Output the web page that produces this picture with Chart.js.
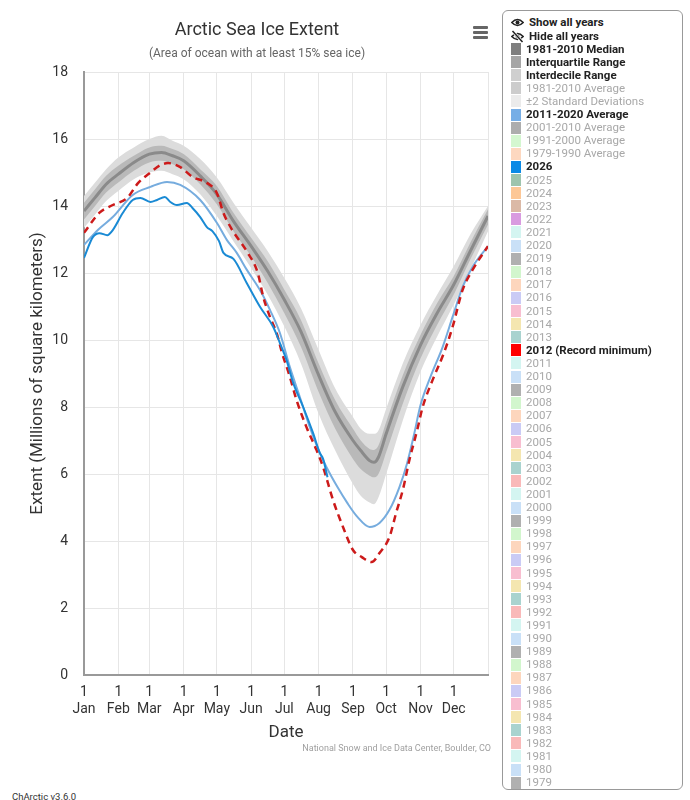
<!DOCTYPE html>
<html><head><meta charset="utf-8">
<script src="https://cdn.jsdelivr.net/npm/chart.js@4.4.1/dist/chart.umd.min.js"></script>
<style>
html,body{margin:0;padding:0;background:#fff;}
body{width:690px;height:800px;position:relative;overflow:hidden;font-family:Roboto,"Noto Sans",sans-serif;}
#wrap{position:absolute;left:0;top:0;width:514px;height:760px;}
#title{position:absolute;left:0;width:514px;top:17px;text-align:center;font-size:18px;color:#333;line-height:24px;}
#subtitle{position:absolute;left:0;width:514px;top:45px;text-align:center;font-size:12px;color:#666;line-height:16px;}
#menu{position:absolute;left:473px;top:26px;width:15px;}
#menu span{display:block;height:3px;background:#666;margin-bottom:2px;border-radius:1px;}
#credit{position:absolute;left:0;width:491px;top:742px;text-align:right;font-size:9px;line-height:12px;color:#a0a0a0;}
#ver{position:absolute;left:12px;top:791px;font-size:9.5px;line-height:12px;color:#333;}
#legend{position:absolute;left:502px;top:10px;width:179px;height:778px;border:1px solid #999;border-radius:6px;background:#fff;}
.row{position:absolute;left:8px;height:13px;line-height:13px;font-size:11.5px;white-space:nowrap;}
.sw{display:inline-block;width:10px;height:12px;vertical-align:top;margin-right:5px;margin-top:0.5px;}
.ic{display:inline-block;width:13px;height:13px;vertical-align:top;margin-right:5px;}
</style>
</head>
<body>
<div id="wrap"><canvas id="c" width="514" height="760"></canvas></div>
<div id="title">Arctic Sea Ice Extent</div>
<div id="subtitle">(Area of ocean with at least 15% sea ice)</div>
<div id="menu"><span></span><span></span><span></span></div>
<div id="credit">National Snow and Ice Data Center, Boulder, CO</div>
<div id="ver">ChArctic v3.6.0</div>
<div id="legend"></div>
<script>
// ---- Data (day of year, 0 = Jan 1) ----
const monthNames = ['Jan','Feb','Mar','Apr','May','Jun','Jul','Aug','Sep','Oct','Nov','Dec'];
const monthStartDays = [0,31,59,90,120,151,181,212,243,273,304,334,365];

const climDays = [0,10,20,31,45,59,70,80,90,105,120,135,151,166,181,196,212,227,243,250,258,262,266,273,288,304,319,334,349,365];
const median1981 = [13.85,14.25,14.65,14.95,15.3,15.55,15.6,15.5,15.35,14.9,14.35,13.55,12.8,12.05,11.2,10.25,8.95,7.85,7.0,6.7,6.4,6.35,6.5,7.2,8.6,9.85,10.8,11.65,12.65,13.7];
const iqHigh = [14.1,14.5,14.9,15.2,15.5,15.75,15.8,15.7,15.55,15.1,14.6,13.8,13.05,12.35,11.5,10.6,9.3,8.2,7.35,7.0,6.75,6.72,6.85,7.55,8.95,10.15,11.1,11.9,12.9,13.9];
const iqLow = [13.6,14.0,14.4,14.7,15.05,15.3,15.35,15.25,15.1,14.65,14.05,13.25,12.5,11.7,10.8,9.8,8.45,7.35,6.45,6.15,5.95,5.9,6.0,6.65,8.1,9.45,10.45,11.35,12.4,13.45];
const idHigh = [14.3,14.7,15.1,15.45,15.75,16.0,16.1,15.95,15.8,15.4,14.85,14.1,13.35,12.65,11.85,10.95,9.7,8.55,7.7,7.35,7.2,7.2,7.3,7.95,9.3,10.45,11.35,12.2,13.15,14.0];
const idLow = [13.35,13.75,14.15,14.45,14.8,15.0,15.05,14.95,14.8,14.35,13.7,12.95,12.15,11.35,10.4,9.3,7.8,6.7,5.7,5.35,5.15,5.1,5.3,6.0,7.6,9.05,10.1,11.05,12.1,13.25];

const avgDays = [0,13,26,44,60,75,87,105,120,129,138,147,159,168,177,186,195,204,213,219,229,238,247,258,267,276,285,292,298,304,313,324,333,342,351,365];
const avg2011_2020 = [12.84,13.3,13.67,14.33,14.57,14.72,14.63,14.18,13.5,12.99,12.6,12.1,11.49,10.9,10.21,9.19,8.3,7.4,6.63,6.21,5.61,5.13,4.72,4.42,4.54,4.93,5.61,6.33,7.15,8.05,8.9,9.79,10.69,11.58,12.18,12.8];

const days2012 = [0,14,26,39,49,60,69,76,87,98,111,120,126,134,147,157,162,168,174,179,186,192,201,210,216,225,234,243,251,260,267,276,282,288,294,301,306,315,325,333,342,351,365];
const ext2012 = [13.2,13.8,14.03,14.24,14.69,15.0,15.22,15.28,15.16,14.87,14.69,14.39,13.79,13.28,12.65,12.0,11.28,10.69,10.21,9.61,8.9,8.21,7.4,6.72,6.21,5.22,4.42,3.73,3.52,3.37,3.64,4.12,4.84,5.52,6.42,7.31,8.0,8.81,9.6,10.39,11.49,12.09,12.8];

const days2026 = [0,8,14,21,26,35,44,51,60,66,73,78,84,93,98,105,111,116,122,126,135,147,159,171,177,183,189,198,207,213,216,220];
const ext2026 = [12.45,13.07,13.19,13.13,13.28,13.79,14.18,14.24,14.12,14.18,14.27,14.12,14.03,14.09,13.94,13.67,13.37,13.25,12.95,12.6,12.42,11.7,10.99,10.39,9.91,9.4,8.72,8.0,7.22,6.63,6.45,5.9];

// ---- Legend entries ----
const legendTop = [['Show all years','eye'],['Hide all years','eyeoff']];
const legendMain = [
  ['1981-2010 Median','#7f7f7f',true],
  ['Interquartile Range','#a6a6a6',true],
  ['Interdecile Range','#cfcfcf',true],
  ['1981-2010 Average','#cccccc',false],
  ['\u00b12 Standard Deviations','#ebebeb',false],
  ['2011-2020 Average','#76aee6',true],
  ['2001-2010 Average','#adadad',false],
  ['1991-2000 Average','#d4f7d0',false],
  ['1979-1990 Average','#fdd8c0',false],
  ['2026','#0a8ae6',true],
  ['2025','#9ec4ad',false],
  ['2024','#fdc796',false],
  ['2023','#dbb9a6',false],
  ['2022','#d99be0',false]
];
const yearCycleColors = ['#c9e0f7','#d4f5f1','#f9b9b9','#a9d3cf','#f4e6b0','#f8bed0','#cacbf5','#fdd6bd','#d2f6cd','#b0b0b0'];

(function buildLegend(){
  const lg = document.getElementById('legend');
  const eye = '<svg class="ic" viewBox="0 0 13 13"><path d="M0.8 6.5 Q6.5 0.5 12.2 6.5 Q6.5 12.5 0.8 6.5Z" fill="none" stroke="#222" stroke-width="1.6"/><circle cx="6.5" cy="6.5" r="2" fill="#222"/></svg>';
  const eyeoff = '<svg class="ic" viewBox="0 0 13 13"><path d="M0.8 6.5 Q6.5 0.5 12.2 6.5 Q6.5 12.5 0.8 6.5Z" fill="none" stroke="#222" stroke-width="1.6"/><circle cx="6.5" cy="6.5" r="2" fill="#222"/><line x1="1.5" y1="1" x2="11.5" y2="12" stroke="#fff" stroke-width="3"/><line x1="1.5" y1="1" x2="11.5" y2="12" stroke="#222" stroke-width="1.5"/></svg>';
  const centers0 = [22,36];
  legendTop.forEach((e,i)=>{
    const d = document.createElement('div');
    d.className='row';
    d.style.top = (centers0[i]-11-6.5)+'px';
    d.style.fontWeight='bold'; d.style.color='#222';
    d.innerHTML = (e[1]==='eye'?eye:eyeoff)+e[0];
    lg.appendChild(d);
  });
  const items = legendMain.slice();
  for(let y=2021;y>=1979;y--){
    if(y===2012) items.push(['2012 (Record minimum)','#ff0000',true]);
    else items.push([String(y), yearCycleColors[y%10], false]);
  }
  items.forEach((e,i)=>{
    const c = 49 + 13.1*i;
    const d = document.createElement('div');
    d.className='row';
    d.style.top = (c-11-6.5)+'px';
    d.style.color = e[2] ? '#222' : '#a8a8a8';
    d.style.fontWeight = e[2] ? 'bold' : 'normal';
    d.innerHTML = '<span class="sw" style="background:'+e[1]+'"></span>'+e[0];
    lg.appendChild(d);
  });
})();

// ---- Chart ----
function pts(days, vals){ return days.map((d,i)=>({x:d, y:vals[i]})); }
const common = {pointRadius:0, pointHoverRadius:0, cubicInterpolationMode:'monotone', tension:0.4};

new Chart(document.getElementById('c'), {
  type:'line',
  data:{
    datasets:[
      Object.assign({label:'2026', data:pts(days2026,ext2026), borderColor:'#1a8ad4', borderWidth:2, fill:false}, common),
      Object.assign({label:'2012 (Record minimum)', data:pts(days2012,ext2012), borderColor:'#cc1a1a', borderWidth:2.5, borderDash:[7,5], fill:false}, common),
      Object.assign({label:'2011-2020 Average', data:pts(avgDays,avg2011_2020), borderColor:'#76acde', borderWidth:2, fill:false}, common),
      Object.assign({label:'1981-2010 Median', data:pts(climDays,median1981), borderColor:'#8a8a8a', borderWidth:3, fill:false}, common),
      Object.assign({label:'Interquartile high', data:pts(climDays,iqHigh), borderColor:'rgba(0,0,0,0)', borderWidth:0, backgroundColor:'#b9b9b9', fill:'+1'}, common),
      Object.assign({label:'Interquartile low', data:pts(climDays,iqLow), borderColor:'rgba(0,0,0,0)', borderWidth:0, fill:false}, common),
      Object.assign({label:'Interdecile high', data:pts(climDays,idHigh), borderColor:'rgba(0,0,0,0)', borderWidth:0, backgroundColor:'#dcdcdc', fill:'+1'}, common),
      Object.assign({label:'Interdecile low', data:pts(climDays,idLow), borderColor:'rgba(0,0,0,0)', borderWidth:0, fill:false}, common)
    ]
  },
  options:{
    responsive:false, animation:false,
    layout:{padding:{top:72,right:26,bottom:10,left:0}},
    plugins:{legend:{display:false}, tooltip:{enabled:false}, title:{display:false}},
    scales:{
      x:{type:'linear', min:0, max:365,
        afterBuildTicks:(s)=>{ s.ticks = monthStartDays.map(v=>({value:v})); },
        afterFit:(s)=>{ s.height = 75; },
        ticks:{autoSkip:false, maxRotation:0, minRotation:0, padding:9, color:'#333',
          font:{size:14, family:'Roboto'},
          callback:(v,i)=> i<12 ? ['1', monthNames[i]] : ''},
        grid:{color:'#e6e6e6', drawTicks:false, lineWidth:1},
        border:{color:'#999', width:2},
        title:{display:true, text:'Date', color:'#333', font:{size:17, family:'Roboto'}, padding:{top:4,bottom:7}}
      },
      y:{min:0, max:18,
        afterFit:(s)=>{ s.width = 84; },
        ticks:{stepSize:2, padding:16, color:'#333', font:{size:14, family:'Roboto'}},
        grid:{color:'#e6e6e6', drawTicks:false, lineWidth:1},
        border:{color:'#999', width:2},
        title:{display:true, text:'Extent (Millions of square kilometers)', color:'#333', font:{size:17, family:'Roboto'}, padding:{top:28,bottom:0}}
      }
    }
  }
});
</script>
</body></html>
